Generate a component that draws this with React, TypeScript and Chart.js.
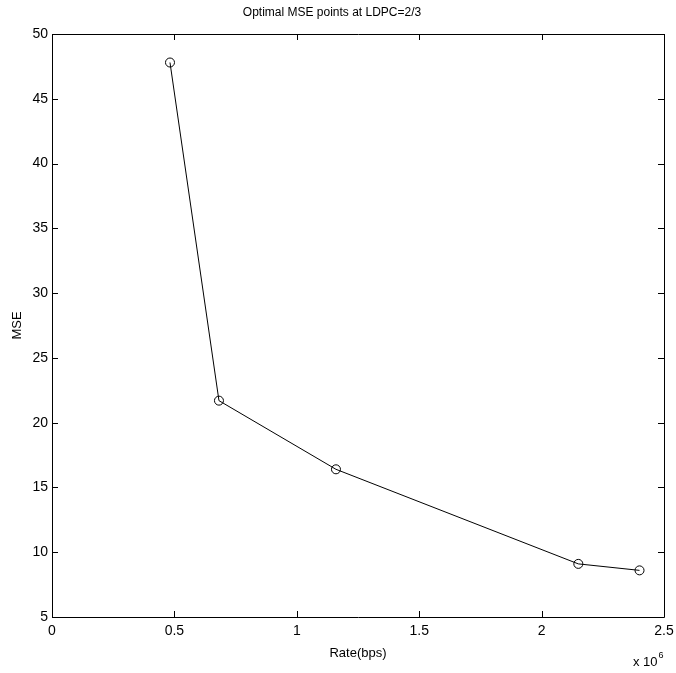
import React, { useEffect, useRef } from "react";
import { Chart, registerables } from "chart.js";
Chart.register(...registerables);

const rates = [0.482e6, 0.682e6, 1.16e6, 2.15e6, 2.4e6];
const mse = [47.8, 21.7, 16.4, 9.1, 8.6];
const xTicks = [0, 0.5e6, 1e6, 1.5e6, 2e6, 2.5e6];
const yTicks = [5, 10, 15, 20, 25, 30, 35, 40, 45, 50];
const titleText = "Optimal MSE points at LDPC=2/3";
const xLabel = "Rate(bps)";
const yLabel = "MSE";
const xExponent = "6";

const FONT = "'Liberation Sans', Arial, Helvetica, sans-serif";

const boxPlugin = {
  id: "boxTicks",
  afterDraw(chart: any) {
    const { ctx, chartArea } = chart;
    const { left, right, top, bottom } = chartArea;
    const xs = chart.scales.x;
    const ys = chart.scales.y;
    ctx.save();
    ctx.strokeStyle = "#000";
    ctx.lineWidth = 1;
    ctx.beginPath();
    ctx.rect(left + 0.5, top + 0.5, right - left, bottom - top);
    const len = 6;
    xTicks.forEach((v) => {
      const px = Math.round(xs.getPixelForValue(v)) + 0.5;
      ctx.moveTo(px, bottom);
      ctx.lineTo(px, bottom - len);
      ctx.moveTo(px, top);
      ctx.lineTo(px, top + len);
    });
    yTicks.forEach((v) => {
      const py = Math.round(ys.getPixelForValue(v)) + 0.5;
      ctx.moveTo(left, py);
      ctx.lineTo(left + len, py);
      ctx.moveTo(right, py);
      ctx.lineTo(right - len, py);
    });
    ctx.stroke();
    // exponent label
    ctx.fillStyle = "#000";
    ctx.textBaseline = "alphabetic";
    ctx.textAlign = "left";
    ctx.font = `13px ${FONT}`;
    const base = "x 10";
    const bx = right - 31;
    const by = bottom + 49;
    ctx.fillText(base, bx, by);
    const w = ctx.measureText(base).width;
    ctx.font = `9px ${FONT}`;
    ctx.fillText(xExponent, bx + w + 1, by - 8);
    ctx.restore();
  },
};

export default function App() {
  const ref = useRef<HTMLCanvasElement>(null);
  useEffect(() => {
    if (!ref.current) return;
    Chart.defaults.color = "#000";
    Chart.defaults.font.family = FONT;
    Chart.defaults.font.size = 12;
    const chart = new Chart(ref.current, {
      type: "line",
      data: {
        datasets: [
          {
            data: rates.map((r, i) => ({ x: r, y: mse[i] })),
            borderColor: "#000",
            borderWidth: 1,
            pointStyle: "circle",
            pointRadius: 4.5,
            pointBorderWidth: 1,
            pointBorderColor: "#000",
            pointBackgroundColor: "rgba(0,0,0,0)",
            fill: false,
            tension: 0,
          },
        ],
      },
      options: {
        animation: false,
        responsive: true,
        maintainAspectRatio: false,
        layout: { padding: { left: 0, right: 12, top: 0, bottom: 0 } },
        plugins: {
          legend: { display: false },
          tooltip: { enabled: false },
          title: {
            display: true,
            text: titleText,
            color: "#000",
            font: { size: 12, weight: "normal", family: FONT },
            padding: { top: 5, bottom: 14.6 },
          },
        },
        scales: {
          x: {
            type: "linear",
            min: 0,
            max: 2.5e6,
            afterBuildTicks: (s: any) => {
              s.ticks = xTicks.map((v) => ({ value: v }));
            },
            afterFit: (s: any) => {
              s.height = 56;
              s.paddingLeft = 0;
              s.paddingRight = 0;
            },
            grid: { display: false, drawTicks: false },
            border: { display: false },
            ticks: {
              padding: 6,
              maxRotation: 0,
              color: "#000",
              font: { size: 14, family: FONT },
              callback: (v: any) => String(Number(v) / 1e6),
            },
            title: {
              display: true,
              text: xLabel,
              color: "#000",
              font: { size: 13, family: FONT },
              padding: { top: 0, bottom: 12 },
            },
          },
          y: {
            type: "linear",
            min: 5,
            max: 50,
            afterBuildTicks: (s: any) => {
              s.ticks = yTicks.map((v) => ({ value: v }));
            },
            afterFit: (s: any) => {
              s.width = 52;
              s.paddingTop = 0;
              s.paddingBottom = 0;
            },
            grid: { display: false, drawTicks: false },
            border: { display: false },
            ticks: { padding: 4, color: "#000", font: { size: 14, family: FONT } },
            title: {
              display: true,
              text: yLabel,
              color: "#000",
              font: { size: 13, family: FONT },
              padding: { top: 10, bottom: 0 },
            },
          },
        },
      },
      plugins: [boxPlugin],
    });
    return () => chart.destroy();
  }, []);
  return (
    <div
      style={{
        position: "fixed",
        left: 0,
        top: 0,
        width: 676,
        height: 673,
        background: "#fff",
      }}
    >
      <canvas ref={ref} />
    </div>
  );
}
